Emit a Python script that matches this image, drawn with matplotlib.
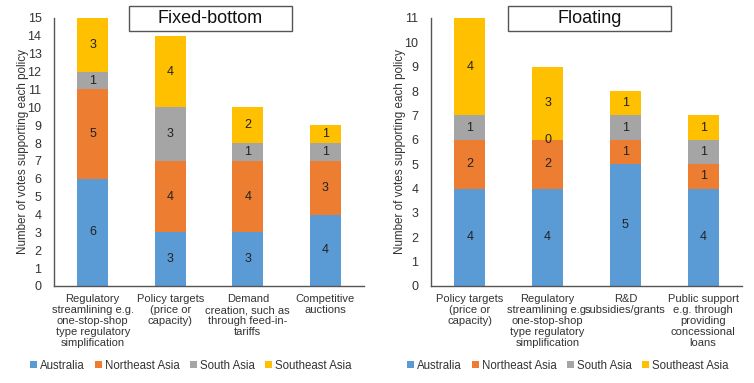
import matplotlib
matplotlib.use("Agg")
import matplotlib.pyplot as plt
from matplotlib.patches import Rectangle
import numpy as np

plt.rcParams['font.family'] = ['Liberation Sans', 'DejaVu Sans']

regions = ['Australia', 'Northeast Asia', 'South Asia', 'Southeast Asia']
colors = ['#5B9BD5', '#ED7D31', '#A5A5A5', '#FFC000']

fixed_cats = ['Regulatory\nstreamlining e.g.\none-stop-shop\ntype regulatory\nsimplification',
              'Policy targets\n(price or\ncapacity)',
              'Demand\ncreation, such as\nthrough feed-in-\ntariffs',
              'Competitive\nauctions']
fixed_aus = [6, 3, 3, 4]
fixed_ne = [5, 4, 4, 3]
fixed_sa = [1, 3, 1, 1]
fixed_se = [3, 4, 2, 1]

float_cats = ['Policy targets\n(price or\ncapacity)',
              'Regulatory\nstreamlining e.g.\none-stop-shop\ntype regulatory\nsimplification',
              'R&D\nsubsidies/grants',
              'Public support\ne.g. through\nproviding\nconcessional\nloans']
float_aus = [4, 4, 5, 4]
float_ne = [2, 2, 1, 1]
float_sa = [1, 0, 1, 1]
float_se = [4, 3, 1, 1]

W, H = 754, 383
fig = plt.figure(figsize=(W / 100, H / 100), dpi=100)


def draw(left, width, cats, series, ymax, title, box_x, legend_cx):
    ax = fig.add_axes([left / W, (H - 286) / H, width / W, 268 / H])
    x = np.arange(len(cats))
    bottom = np.zeros(len(cats))
    for vals, c, name in zip(series, colors, regions):
        bars = ax.bar(x, vals, 0.4, bottom=bottom, color=c, label=name)
        ax.bar_label(bars, label_type='center', fontsize=9, color='#222222')
        bottom += np.array(vals)
    ax.set_xlim(-0.5, len(cats) - 0.5)
    ax.set_ylim(0, ymax)
    ax.set_yticks(range(ymax + 1))
    ax.set_xticks(x)
    ax.set_xticklabels(cats, fontsize=8.0, color='#333333', linespacing=1.13)
    ax.tick_params(axis='y', length=0, labelsize=9, labelcolor='#333333', pad=9)
    ax.tick_params(axis='x', length=0, pad=6)
    for s in ['top', 'right']:
        ax.spines[s].set_visible(False)
    for s in ['left', 'bottom']:
        ax.spines[s].set_color('#555555')
        ax.spines[s].set_linewidth(1)
    ax.set_ylabel('Number of votes supporting each policy', fontsize=8.4, color='#333333')
    ax.yaxis.set_label_coords(-25 / width, 0.5)
    fig.patches.append(Rectangle((box_x / W, (H - 31) / H), 163 / W, 25 / H,
                                 transform=fig.transFigure, fill=False,
                                 edgecolor='#555555', linewidth=1))
    fig.text((box_x + 81.5) / W, (H - 18.5) / H, title, ha='center', va='center',
             fontsize=13, color='#111111')
    handles, labels = ax.get_legend_handles_labels()
    fig.legend(handles, labels, loc='center', bbox_to_anchor=(legend_cx / W, 1 - 366 / H),
               ncol=4, frameon=False, fontsize=8.3, handlelength=0.55, handleheight=0.55,
               handletextpad=0.3, columnspacing=0.9, labelcolor='#333333')
    return ax


draw(54, 310, fixed_cats, [fixed_aus, fixed_ne, fixed_sa, fixed_se], 15,
     'Fixed-bottom', 129, 191)
draw(431, 311, float_cats, [float_aus, float_ne, float_sa, float_se], 11,
     'Floating', 508, 568)

fig.savefig('out.png', dpi=100)
